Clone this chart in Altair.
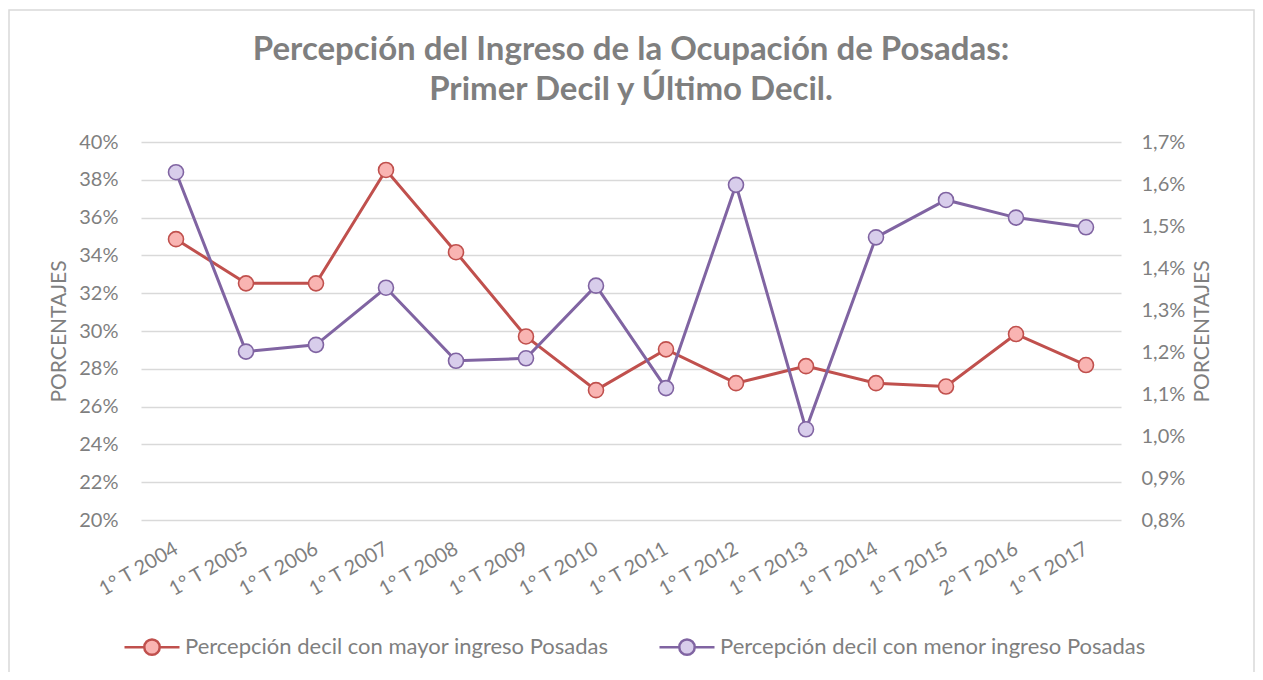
import altair as alt
import pandas as pd

categories = ["1° T 2004", "1° T 2005", "1° T 2006", "1° T 2007", "1° T 2008",
              "1° T 2009", "1° T 2010", "1° T 2011", "1° T 2012", "1° T 2013",
              "1° T 2014", "1° T 2015", "2° T 2016", "1° T 2017"]
mayor = [0.3486, 0.3252, 0.3252, 0.3852, 0.3417, 0.2971, 0.2687,
         0.2903, 0.2724, 0.2814, 0.2724, 0.2706, 0.2984, 0.2820]
menor = [0.01628, 0.01201, 0.01217, 0.01353, 0.01179, 0.01185, 0.01358,
         0.01114, 0.01598, 0.01016, 0.01473, 0.01562, 0.01520, 0.01497]
series_names = ["Percepción decil con mayor ingreso Posadas",
                "Percepción decil con menor ingreso Posadas"]
left_ticks = [0.20, 0.22, 0.24, 0.26, 0.28, 0.30, 0.32, 0.34, 0.36, 0.38, 0.40]
right_ticks = [0.008, 0.009, 0.010, 0.011, 0.012, 0.013, 0.014, 0.015, 0.016, 0.017]
title_lines = ["Percepción del Ingreso de la Ocupación de Posadas:",
               "Primer Decil y Último Decil."]
axis_title = "PORCENTAJES"

line_colors = ["#C0504D", "#8064A2"]
fill_colors = ["#F9B4B2", "#D8CDEB"]
FONT = "Lato"
TXT = "#7F7F7F"

rows = []
for c, v in zip(categories, mayor):
    rows.append({"cat": c, "series": series_names[0], "value": v})
for c, v in zip(categories, menor):
    rows.append({"cat": c, "series": series_names[1], "value": v})
df = pd.DataFrame(rows)

legend_path = ("M-1,0L-0.28,0M0.28,0L1,0"
               "M-0.28,0A0.28,0.28,0,1,0,0.28,0A0.28,0.28,0,1,0,-0.28,0Z")

stroke_scale = alt.Scale(domain=series_names, range=line_colors)
fill_scale = alt.Scale(domain=series_names, range=fill_colors)
legend = alt.Legend(
    title=None, orient="none", legendX=-18, legendY=476, direction="horizontal",
    columns=2, columnPadding=45, symbolType=legend_path, symbolSize=3025,
    symbolStrokeWidth=2.5, labelFont=FONT, labelFontSize=22, labelColor=TXT,
    labelLimit=700, labelOffset=4,
)

x_enc = alt.X("cat:N", sort=categories,
              scale=alt.Scale(type="point", padding=0.5),
              axis=alt.Axis(title=None, labelAngle=330, labelAlign="right",
                            labelBaseline="middle", labelPadding=27,
                            ticks=False, domain=False, grid=False,
                            labelFont=FONT, labelFontSize=20, labelColor=TXT))

left_axis = alt.Axis(values=left_ticks, format=".0%", title=axis_title,
                     grid=True, gridColor="#D9D9D9", gridWidth=1.5,
                     ticks=False, domain=False, labelPadding=23,
                     labelFont=FONT, labelFontSize=20, labelColor=TXT,
                     titleFont=FONT, titleFontSize=21, titleColor=TXT,
                     titleFontWeight="normal", titlePadding=9)
right_axis = alt.Axis(values=right_ticks,
                      labelExpr="replace(format(datum.value, '.1%'), '.', ',')",
                      title=axis_title, orient="right", grid=False,
                      ticks=False, domain=False, labelPadding=20,
                      labelFont=FONT, labelFontSize=20, labelColor=TXT,
                      titleFont=FONT, titleFontSize=21, titleColor=TXT,
                      titleFontWeight="normal", titlePadding=7,
                      titleAngle=270, titleBaseline="top")

y_left = alt.Y("value:Q", scale=alt.Scale(domain=[0.20, 0.40], nice=False, zero=False),
               axis=left_axis)
y_right = alt.Y("value:Q", scale=alt.Scale(domain=[0.008, 0.017], nice=False, zero=False),
                axis=right_axis)

base = alt.Chart(df)

def series_layer(name, y_enc):
    b = base.transform_filter(alt.datum.series == name)
    ln = b.mark_line(strokeWidth=3).encode(
        x=x_enc, y=y_enc,
        stroke=alt.Stroke("series:N", scale=stroke_scale, legend=legend),
    )
    pt = b.mark_point(filled=True, size=225, strokeWidth=1.6, opacity=1).encode(
        x=x_enc, y=y_enc,
        stroke=alt.Stroke("series:N", scale=stroke_scale, legend=legend),
        fill=alt.Fill("series:N", scale=fill_scale, legend=legend),
    )
    return alt.layer(ln, pt)

left = series_layer(series_names[0], y_left)
right = series_layer(series_names[1], y_right)

frame = alt.Chart(pd.DataFrame({"k": [0]})).mark_rect(
    filled=False, stroke="#D9D9D9", strokeWidth=1.5
).encode(x=alt.value(-132), x2=alt.value(1113), y=alt.value(-132), y2=alt.value(560))

chart = alt.layer(frame, left, right).resolve_scale(y="independent").properties(
    width=980, height=378,
    autosize=alt.AutoSizeParams(type="none"),
    padding={"left": 133, "top": 134, "right": 134, "bottom": 152},
    title=alt.TitleParams(text=title_lines, font=FONT, fontSize=33,
                          fontWeight="bold", color=TXT, lineHeight=40,
                          anchor="middle", frame="group", offset=-98),
).configure_view(stroke=None)

chart.save("out.html", embed_options={"renderer": "svg", "actions": False})
